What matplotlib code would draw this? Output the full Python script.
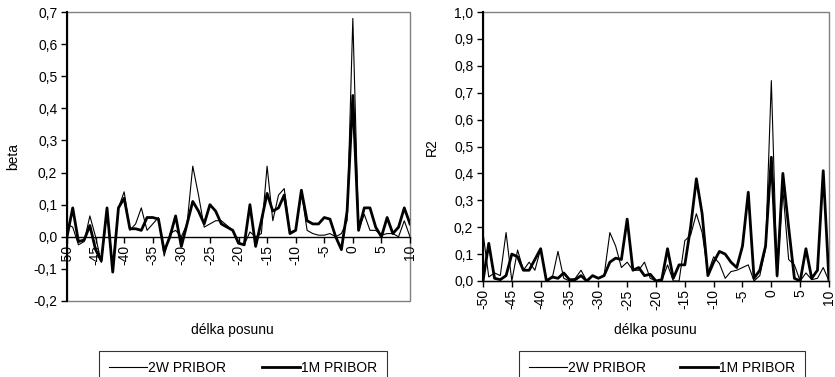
"""
Cross-correlation of PRIBOR rates vs. lag length: beta (left) and R2 (right).
"""
import matplotlib
matplotlib.use('Agg')
import matplotlib.pyplot as plt
import matplotlib.ticker as tck
from matplotlib.patches import Rectangle
import numpy as np

plt.rcParams['font.family'] = ['Liberation Sans', 'DejaVu Sans']
plt.rcParams['font.size'] = 10

# lag categories -50 .. 10
lags = np.arange(-50, 11)
xTicks = list(range(-50, 11, 5))

# beta, 2W PRIBOR (thin)
beta2W = [0.04, 0.03, -0.025, -0.015, 0.065, 0.0, -0.08, 0.08, -0.09, 0.09,
          0.14, 0.02, 0.04, 0.09, 0.02, 0.04, 0.06, -0.06, 0.01, 0.02,
          0.0, 0.04, 0.22, 0.13, 0.03, 0.04, 0.05, 0.05, 0.035, 0.02,
          -0.02, -0.025, 0.015, 0.0, 0.01, 0.22, 0.05, 0.13, 0.15, 0.015,
          0.02, 0.14, 0.02, 0.01, 0.005, 0.005, 0.01, 0.0, 0.01, 0.05,
          0.68, 0.02, 0.07, 0.02, 0.02, 0.005, 0.01, 0.01, 0.0, 0.05,
          0.0]
# beta, 1M PRIBOR (thick)
beta1M = [0.0, 0.09, -0.015, -0.01, 0.035, -0.04, -0.075, 0.09, -0.11, 0.09,
          0.12, 0.025, 0.025, 0.02, 0.06, 0.06, 0.055, -0.045, 0.0, 0.065,
          -0.03, 0.04, 0.11, 0.08, 0.04, 0.10, 0.08, 0.04, 0.03, 0.02,
          -0.02, -0.025, 0.10, -0.03, 0.05, 0.135, 0.08, 0.09, 0.13, 0.01,
          0.02, 0.145, 0.05, 0.04, 0.04, 0.06, 0.055, 0.0, -0.04, 0.08,
          0.44, 0.02, 0.09, 0.09, 0.03, 0.0, 0.06, 0.01, 0.03, 0.09,
          0.04]
# R2, 2W PRIBOR (thin)
r2_2W = [0.18, 0.015, 0.03, 0.02, 0.18, 0.0, 0.115, 0.04, 0.07, 0.04,
         0.12, 0.005, 0.01, 0.11, 0.01, 0.0, 0.01, 0.04, 0.0, 0.02,
         0.01, 0.02, 0.18, 0.13, 0.05, 0.07, 0.04, 0.04, 0.07, 0.01,
         0.0, 0.0, 0.06, 0.0, 0.0, 0.15, 0.17, 0.25, 0.18, 0.03,
         0.09, 0.065, 0.01, 0.035, 0.04, 0.05, 0.06, 0.0, 0.02, 0.12,
         0.745, 0.015, 0.34, 0.08, 0.06, 0.0, 0.03, 0.005, 0.01, 0.05,
         0.0]
# R2, 1M PRIBOR (thick)
r2_1M = [0.0, 0.14, 0.01, 0.005, 0.02, 0.10, 0.09, 0.04, 0.04, 0.08,
         0.12, 0.0, 0.015, 0.01, 0.03, 0.005, 0.005, 0.02, 0.0, 0.02,
         0.01, 0.02, 0.07, 0.085, 0.08, 0.23, 0.04, 0.05, 0.02, 0.025,
         0.0, 0.005, 0.12, 0.01, 0.06, 0.06, 0.2, 0.38, 0.25, 0.02,
         0.07, 0.11, 0.10, 0.07, 0.05, 0.13, 0.33, 0.01, 0.04, 0.13,
         0.46, 0.02, 0.40, 0.2, 0.01, 0.0, 0.12, 0.01, 0.04, 0.41,
         0.0]

labels = ['2W PRIBOR', '1M PRIBOR']

W, H = 835, 377
fig = plt.figure(figsize=(W / 100, H / 100), dpi=100)

def px(x0, y0, x1, y1):
  return [x0 / W, 1 - y1 / H, (x1 - x0) / W, (y1 - y0) / H]

comma = tck.FuncFormatter(lambda v, p: ('%.1f' % v).replace('.', ','))

def setup(ax, ymin, ymax, ylabel, ylabPx, xlabPx):
  # spine position first: it resets the tick objects
  for s in ['top', 'right']:
    ax.spines[s].set_visible(False)
  ax.spines['left'].set_color('black')
  ax.spines['left'].set_linewidth(1.5)
  ax.spines['bottom'].set_position(('data', 0))
  ax.spines['bottom'].set_color('black')
  ax.spines['bottom'].set_linewidth(1.0)
  ax.set_xlim(-50, 10)
  ax.set_ylim(ymin, ymax)
  ax.set_xticks(xTicks)
  ax.set_xticklabels([str(t) for t in xTicks])
  ax.set_yticks(np.round(np.arange(ymin, ymax + 0.001, 0.1), 1))
  ax.yaxis.set_major_formatter(comma)
  ax.add_patch(Rectangle((0, 0), 1, 1, transform=ax.transAxes, fill=False,
                         edgecolor='#808080', linewidth=1.0, clip_on=False, zorder=0))
  ax.tick_params(axis='both', direction='out', length=4, width=1, color='black',
                 labelsize=10)
  ax.tick_params(axis='x', pad=2, labelrotation=90)
  ax.tick_params(axis='y', pad=3)
  fig.text(ylabPx[0] / W, 1 - ylabPx[1] / H, ylabel, rotation=90,
           ha='center', va='center', fontsize=10)
  fig.text(xlabPx[0] / W, 1 - xlabPx[1] / H, 'délka posunu',
           ha='center', va='center', fontsize=10)

ax1 = fig.add_axes(px(67, 12, 410, 301))
l1, = ax1.plot(lags, beta2W, color='black', linewidth=0.8)
l2, = ax1.plot(lags, beta1M, color='black', linewidth=2.0)
setup(ax1, -0.2, 0.7, 'beta', (13, 157), (232, 330))

ax2 = fig.add_axes(px(483, 12, 829, 281))
ax2.plot(lags, r2_2W, color='black', linewidth=0.8)
ax2.plot(lags, r2_1M, color='black', linewidth=2.0)
setup(ax2, 0.0, 1.0, 'R2', (432, 147), (655, 330))

for x0, x1 in [(99, 387), (519, 805)]:
  leg = fig.legend([l1, l2], labels, loc='upper left',
                   bbox_to_anchor=(x0 / W, 1 - 351 / H, (x1 - x0) / W, 0),
                   mode='expand', ncol=2, frameon=True, fancybox=False,
                   edgecolor='black', handlelength=2.75, handletextpad=0.1,
                   borderpad=0.7, borderaxespad=0, fontsize=10)
  leg.get_frame().set_linewidth(0.8)

plt.savefig('out.png', dpi=100)
